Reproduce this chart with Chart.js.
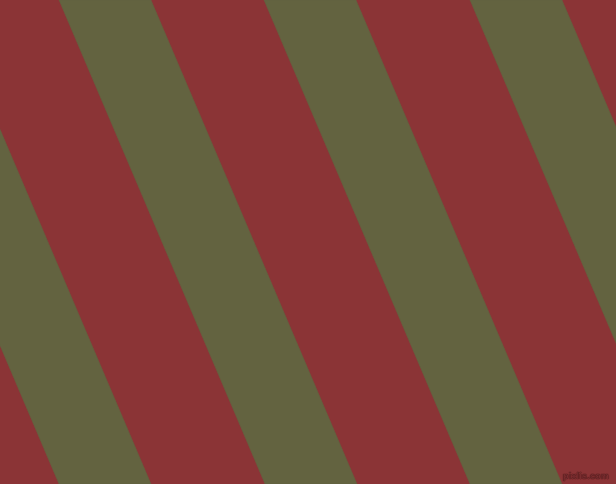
<!DOCTYPE html>
<html>
<head>
<meta charset="utf-8">
<script src="https://cdn.jsdelivr.net/npm/chart.js@4/dist/chart.umd.min.js"></script>
<style>
  html, body { margin: 0; padding: 0; background: #8b3436; overflow: hidden; }
  #wrap { position: relative; width: 616px; height: 484px; }
  #mark {
    position: absolute; right: 7px; bottom: 3px;
    font: bold 9px "Liberation Sans", sans-serif; color: #7a2e30;
    text-shadow: 0 0 1px #3e1415, 0 0 1px #3e1415;
    letter-spacing: 0.2px;
  }
</style>
</head>
<body>
<div id="wrap">
  <canvas id="stripes" width="616" height="484"></canvas>
  <div id="mark">pixlis.com</div>
</div>
<script>
// olive bands, given as the x where their left edge meets the top border
const bandStarts = [-147, 59, 264, 470];
const bandWidth = 92;      // horizontal width of one olive band
const bandDrift = 206;     // how far a band moves right from top to bottom
const bandColour = '#636340';

const W = 616, H = 484;

// each band is a closed parallelogram in data units
const datasets = bandStarts.map(x0 => ({
    data: [
        { x: x0, y: 0 },
        { x: x0 + bandWidth, y: 0 },
        { x: x0 + bandWidth + bandDrift, y: H },
        { x: x0 + bandDrift, y: H },
        { x: x0, y: 0 }
    ],
    showLine: true,
    fill: 'shape',
    backgroundColor: bandColour,
    borderColor: bandColour,
    borderWidth: 0.5,
    pointRadius: 0,
    tension: 0
}));

new Chart(document.getElementById('stripes'), {
    type: 'scatter',
    data: { datasets: datasets },
    options: {
        responsive: false,
        animation: false,
        layout: { padding: 0 },
        plugins: { legend: { display: false }, tooltip: { enabled: false } },
        scales: {
            x: { type: 'linear', min: 0, max: W, display: false },
            y: { type: 'linear', min: 0, max: H, reverse: true, display: false }
        }
    }
});
</script>
</body>
</html>
